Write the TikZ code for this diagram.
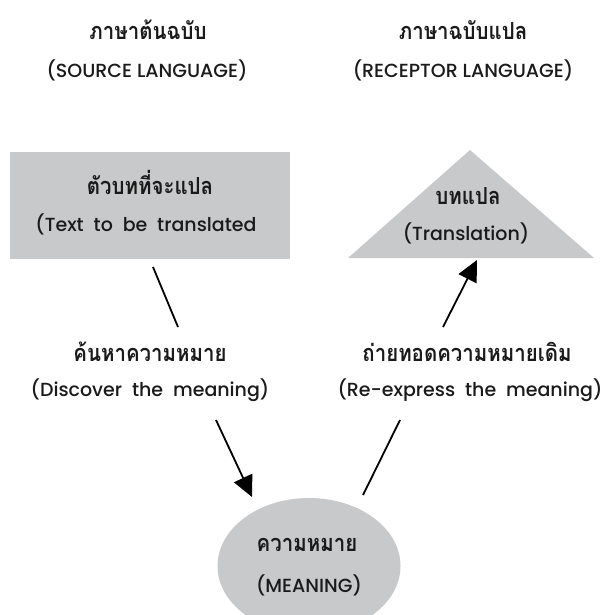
\documentclass[tikz,border=0pt]{standalone}
\usepackage{fontspec}
\setmainfont{Poppins Medium}
\newfontfamily\thaifont[Script=Thai, FakeStretch=0.87]{Loma}
\usetikzlibrary{arrows.meta,shapes.geometric}
\definecolor{shapegray}{HTML}{C8C9CB}
\definecolor{inkgray}{HTML}{1A1A1A}
\begin{document}
\begin{tikzpicture}[x=1pt,y=-1pt,
  th/.style={font=\thaifont\bfseries\fontsize{23.5}{26}\selectfont, inner sep=0pt, text=inkgray},
  en/.style={font=\fontsize{19}{22}\selectfont, inner sep=0pt, text=inkgray},
  conn/.style={line width=1.8pt},
  arr/.style={conn,-{Triangle[length=21pt,width=20pt]}}]
\useasboundingbox (0,0) rectangle (602,615);
% shapes
\node[fill=shapegray, minimum width=280pt, minimum height=107pt, inner sep=0pt] (box) at (150,205.5) {};
\coordinate (triL) at (348,258);
\coordinate (triT) at (470,150);
\coordinate (triR) at (594,258);
\fill[shapegray] (triL) -- (triT) -- (triR) -- cycle;
\node[ellipse, fill=shapegray, minimum width=183pt, minimum height=136pt, inner sep=0pt] (ell) at (309,566) {};
% titles
\node[th] (srcTh) at (148,30) {ภาษาต้นฉบับ};
\node[en] (srcEn) at (147,70) {(SOURCE LANGUAGE)};
\node[th] (recTh) at (463,30) {ภาษาฉบับแปล};
\node[en] (recEn) at (463,70) {(RECEPTOR LANGUAGE)};
% shape texts
\node[th] (boxTh) at (150,182) {ตัวบทที่จะแปล};
\node[en] (boxEn) at (146,224) {(Text\ \ to\ \ be\ \ translated};
\node[th] (triTh) at (468,196) {บทแปล};
\node[en] (triEn) at (466,233) {(Translation)};
\node[th] (ellTh) at (307,545) {ความหมาย};
\node[en] (ellEn) at (309,585) {(MEANING)};
% labels
\node[th] (discTh) at (150,352) {ค้นหาความหมาย};
\node[en] (discEn) at (150,390) {(Discover\ \ the\ \ meaning)};
\node[th] (reexTh) at (467,352) {ถ่ายทอดความหมายเดิม};
\node[en] (reexEn) at (470,390) {(Re-express\ \ the\ \ meaning)};
% connector ends
\coordinate (l1a) at (153,267);
\coordinate (l1b) at (178,327);
\coordinate (l2a) at (216,420);
\coordinate (l2b) at (252,497);
\coordinate (r1a) at (400,420);
\coordinate (r1b) at (363,495);
\coordinate (r2a) at (443,327);
\coordinate (r2b) at (477,260);
\draw[conn] (l1a) -- (l1b);
\draw[arr] (l2a) -- (l2b);
\draw[conn] (r1a) -- (r1b);
\draw[arr] (r2a) -- (r2b);
\end{tikzpicture}
\end{document}
